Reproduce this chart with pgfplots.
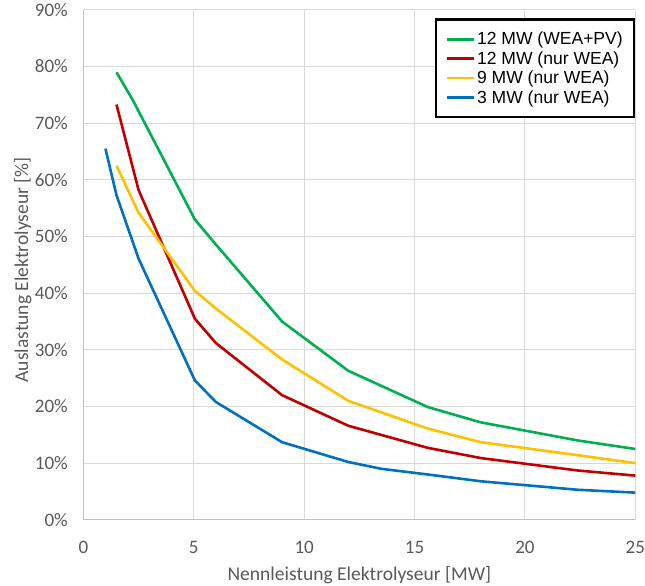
\documentclass[border=0pt]{standalone}
\usepackage{fontspec}
\setmainfont{Carlito}
\newfontfamily\arial{Liberation Sans}
\usepackage{pgfplots}
\pgfplotsset{compat=1.18}

\definecolor{cgreen}{HTML}{00B050}
\definecolor{cred}{HTML}{C00000}
\definecolor{cyellow}{HTML}{FFC000}
\definecolor{cblue}{HTML}{0070C0}
\definecolor{tickgray}{HTML}{595959}
\definecolor{gridgray}{HTML}{D9D9D9}
\definecolor{axisgray}{HTML}{BFBFBF}

\begin{document}
\begin{tikzpicture}
\begin{axis}[
  scale only axis,
  width=551pt, height=509pt,
  xmin=0, xmax=25, ymin=0, ymax=90,
  xtick={0,5,...,25},
  ytick={0,10,...,90},
  yticklabel={\pgfmathprintnumber{\tick}\%},
  /pgf/number format/assume math mode=true,
  tick style={draw=none},
  axis lines*=left,
  axis line style={draw=axisgray, line width=1pt, -},
  grid=major,
  grid style={draw=gridgray, line width=1pt},
  tick label style={font=\fontsize{19}{22}\selectfont, text=tickgray},
  xticklabel style={inner sep=0pt, yshift=-21pt},
  yticklabel style={xshift=-12pt},
  label style={font=\fontsize{19.5}{22}\selectfont, text=tickgray},
  xlabel={Nennleistung Elektrolyseur [MW]},
  ylabel={Auslastung Elektrolyseur [\%]},
  xlabel style={at={(rel axis cs:0.5,0)}, anchor=base, yshift=-61pt,
    inner xsep=0pt, inner ysep=1pt},
  ylabel style={at={(rel axis cs:-0.1098,0.49)}, anchor=center,
    inner xsep=0pt, inner ysep=14pt},
  legend cell align=left,
  legend style={at={(rel axis cs:1,1)}, anchor=north east, yshift=-8.5pt,
    draw=black, line width=2.2pt, inner xsep=10pt, inner ysep=10pt,
    font=\arial\fontsize{17.5}{20}\selectfont,
    nodes={inner xsep=1.5pt, inner ysep=2.6pt}},
  legend image code/.code={\draw[#1] (0pt,0pt) -- (27pt,0pt);},
]
\addplot[cgreen, line width=2.6pt] coordinates {
  (1.5,79.0) (2.25,74.0) (5.05,53.0) (6,48.6) (9,35.0) (12,26.3)
  (15.6,19.9) (18,17.2) (22.4,14.0) (25,12.5)
};
\addlegendentry{12 MW (WEA+PV)}
\addplot[cred, line width=2.6pt] coordinates {
  (1.5,73.3) (2.5,58.2) (5.05,35.5) (6,31.2) (9,22.0) (12,16.6)
  (15.6,12.7) (18,10.9) (22.4,8.7) (25,7.8)
};
\addlegendentry{12 MW (nur WEA)}
\addplot[cyellow, line width=2.6pt] coordinates {
  (1.5,62.5) (2.5,54.2) (5.05,40.4) (6,37.3) (9,28.3) (12,21.0)
  (15.6,16.1) (18,13.7) (22.4,11.4) (25,10.0)
};
\addlegendentry{9 MW (nur WEA)}
\addplot[cblue, line width=2.6pt] coordinates {
  (1,65.5) (1.5,57.3) (2.5,46.1) (5.05,24.6) (6,20.8) (9,13.7) (12,10.2)
  (13.5,9.0) (15.6,8.0) (18,6.8) (22.4,5.3) (25,4.8)
};
\addlegendentry{3 MW (nur WEA)}
\end{axis}
\end{tikzpicture}
\end{document}
